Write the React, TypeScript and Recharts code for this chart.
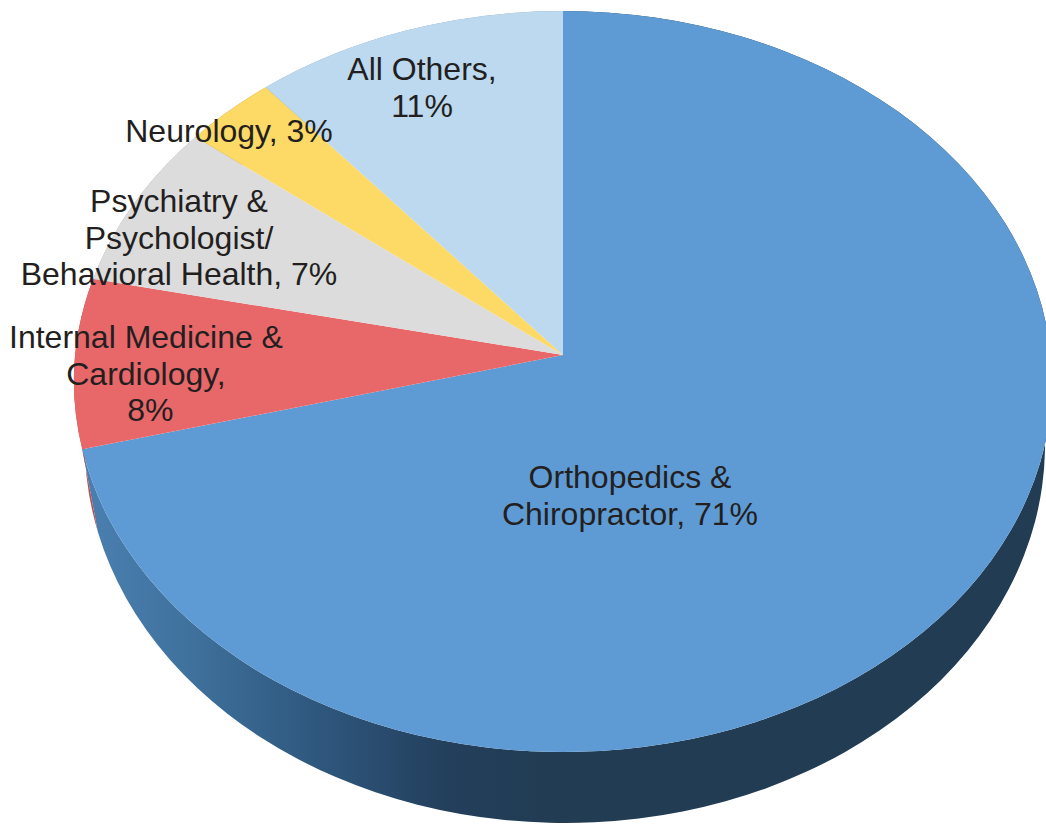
import { Pie, PieChart } from 'recharts';

const categories = [
  'Orthopedics & Chiropractor',
  'Internal Medicine & Cardiology',
  'Psychiatry & Psychologist/ Behavioral Health',
  'Neurology',
  'All Others',
];
// printed labels are rounded, these are read from the slice edges
const shares = [70.9, 7.5, 7.3, 3.3, 11];
const topColors = ['#5e9bd4', '#e8686a', '#dcdcdc', '#fdd966', '#bcd9f0'];
const sideColors = ['url(#orthoSide)', '#b5504f', '#a0a0a0', '#b89a40', '#88a0b8'];
const labelLines = [
  ['Orthopedics &', 'Chiropractor, 71%'],
  ['Internal Medicine &', 'Cardiology,', '\u00a08%'],
  ['Psychiatry &', 'Psychologist/', 'Behavioral Health, 7%'],
  ['Neurology, 3%'],
  ['All Others,', '11%'],
];

// centre x and first baseline of each label
const labelSpots = [
  [630, 488],
  [146, 348],
  [179, 212],
  [229, 142],
  [422, 80],
];

const slices = categories.map((name, i) => ({ name, value: shares[i] }));

// the slice tip sits above the middle of the ellipse, like the tilted 3D pie
const topRim = { cx: 563, cy: 381.5, rx: 489, ry: 370.5, tipX: 563, tipY: 355 };
const bottomRim = { cx: 565, cy: 445, rx: 480, ry: 378, tipX: 565, tipY: 440 };
const TILT = 0.745;

type Rim = typeof topRim;

const rimPoint = (rim: Rim, angle: number) => {
  const dx = Math.cos((angle * Math.PI) / 180);
  const dy = -Math.sin((angle * Math.PI) / 180) * TILT;
  const ox = (rim.tipX - rim.cx) / rim.rx;
  const oy = (rim.tipY - rim.cy) / rim.ry;
  const ux = dx / rim.rx;
  const uy = dy / rim.ry;
  const a = ux * ux + uy * uy;
  const b = 2 * (ox * ux + oy * uy);
  const c = ox * ox + oy * oy - 1;
  const t = (-b + Math.sqrt(b * b - 4 * a * c)) / (2 * a);
  return { x: rim.tipX + dx * t, y: rim.tipY + dy * t };
};

const isLarge = (rim: Rim, from: { x: number; y: number }, to: { x: number; y: number }) => {
  const a0 = Math.atan2((from.y - rim.cy) / rim.ry, (from.x - rim.cx) / rim.rx);
  const a1 = Math.atan2((to.y - rim.cy) / rim.ry, (to.x - rim.cx) / rim.rx);
  let delta = a1 - a0;
  while (delta < 0) delta += Math.PI * 2;
  return delta > Math.PI ? 1 : 0;
};

const TopSlice = (props: any) => {
  const from = rimPoint(topRim, props.startAngle);
  const to = rimPoint(topRim, props.endAngle);
  const d =
    `M${topRim.tipX},${topRim.tipY} L${from.x},${from.y} ` +
    `A${topRim.rx},${topRim.ry} 0 ${isLarge(topRim, from, to)} 1 ${to.x},${to.y} Z`;
  return <path d={d} fill={topColors[props.index]} />;
};

const SideSlice = (props: any) => {
  const a = rimPoint(topRim, props.startAngle);
  const b = rimPoint(topRim, props.endAngle);
  const c = rimPoint(bottomRim, props.endAngle);
  const e = rimPoint(bottomRim, props.startAngle);
  const d =
    `M${a.x},${a.y} A${topRim.rx},${topRim.ry} 0 ${isLarge(topRim, a, b)} 1 ${b.x},${b.y} ` +
    `L${c.x},${c.y} A${bottomRim.rx},${bottomRim.ry} 0 ${isLarge(bottomRim, e, c)} 0 ${e.x},${e.y} Z`;
  return <path d={d} fill={sideColors[props.index]} />;
};

const SliceLabel = (props: any) => {
  const [x, y] = labelSpots[props.index];
  return (
    <text
      x={x}
      y={y}
      textAnchor="middle"
      fontFamily="'Liberation Sans', Arial, sans-serif"
      fontSize={32}
      fill="#231f20"
    >
      {labelLines[props.index].map((line, i) => (
        <tspan key={line} x={x} dy={i === 0 ? 0 : 36.5}>
          {line}
        </tspan>
      ))}
    </text>
  );
};

export default function App() {
  return (
    <div style={{ position: 'absolute', left: 0, top: 0, width: 1046, height: 825 }}>
      <PieChart width={1046} height={825} margin={{ top: 0, right: 0, bottom: 0, left: 0 }}>
        <defs>
          <linearGradient id="orthoSide" gradientUnits="userSpaceOnUse" x1={80} y1={0} x2={1046} y2={0}>
            <stop offset="0" stopColor="#4a80b2" />
            <stop offset="0.117" stopColor="#3f719c" />
            <stop offset="0.204" stopColor="#335f87" />
            <stop offset="0.29" stopColor="#2b4f73" />
            <stop offset="0.38" stopColor="#233f5c" />
            <stop offset="0.48" stopColor="#213c53" />
            <stop offset="1" stopColor="#213c53" />
          </linearGradient>
        </defs>
        <Pie
          data={slices}
          dataKey="value"
          cx={563}
          cy={355}
          outerRadius={489}
          startAngle={90}
          endAngle={-270}
          stroke="none"
          shape={SideSlice}
          isAnimationActive={false}
        />
        <Pie
          data={slices}
          dataKey="value"
          cx={563}
          cy={355}
          outerRadius={489}
          startAngle={90}
          endAngle={-270}
          stroke="none"
          shape={TopSlice}
          label={SliceLabel}
          labelLine={false}
          isAnimationActive={false}
        />
      </PieChart>
    </div>
  );
}
